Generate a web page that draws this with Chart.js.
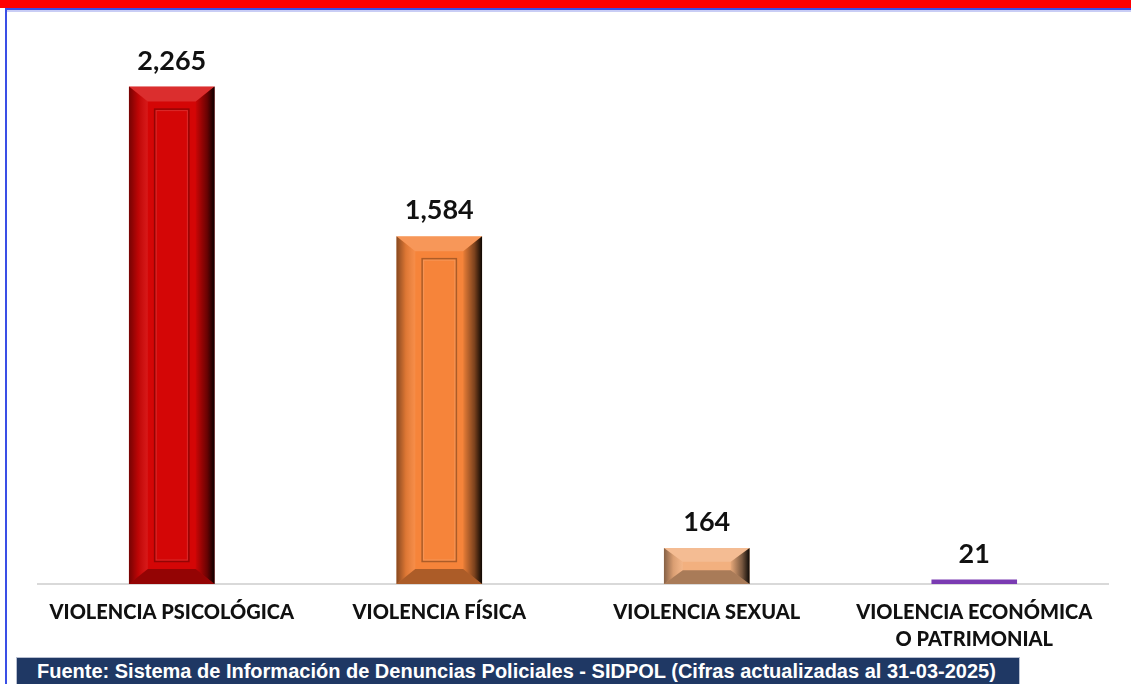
<!DOCTYPE html>
<html>
<head>
<meta charset="utf-8">
<script src="https://cdn.jsdelivr.net/npm/chart.js@4/dist/chart.umd.min.js"></script>
<style>
  html, body { margin: 0; padding: 0; background: #fff; }
  body { width: 1131px; height: 684px; position: relative; overflow: hidden; }
  #banner { position: absolute; left: 0; top: 0; width: 1131px; height: 8px; background: #ff0000; }
  #frameTop { position: absolute; left: 5px; top: 8px; width: 1126px; height: 2px; background: #3a4fe6;
              box-shadow: 0 2px 0 #c9cdf5; }
  #frameLeft { position: absolute; left: 5px; top: 8px; width: 2px; height: 676px; background: #3a4fe6; }
  #fuente { position: absolute; left: 16px; top: 657px; width: 1004px; height: 30px; background: #1f3864;
            border: 1px solid #b8bfd0; box-sizing: border-box; color: #fff;
            font: bold 20px "Liberation Sans", Arial, sans-serif;
            line-height: 26px; padding-left: 20px; white-space: nowrap; }
  canvas { position: absolute; left: 0; top: 0; }
</style>
</head>
<body>
<div id="banner"></div>
<div id="frameTop"></div>
<div id="frameLeft"></div>
<canvas id="chart" width="1131" height="684"></canvas>
<div id="fuente">Fuente: Sistema de Información de Denuncias Policiales - SIDPOL (Cifras actualizadas al 31-03-2025)</div>
<script>
const categories = [
    ["VIOLENCIA PSICOLÓGICA"],
    ["VIOLENCIA FÍSICA"],
    ["VIOLENCIA SEXUAL"],
    ["VIOLENCIA ECONÓMICA", "O PATRIMONIAL"]
];
const denuncias = [2265, 1584, 164, 21];
const barColors = ["#d40606", "#f6843a", "#f2b07f", "#7a3bb2"];

// bevel look on top of each bar (uses the bar element positions)
const bevelPlugin = {
    id: "bevel",
    afterDatasetsDraw(chart) {
        const ctx = chart.ctx;
        chart.getDatasetMeta(0).data.forEach((bar, i) => {
            const p = bar.getProps(["x", "y", "base", "width"], true);
            const l = p.x - p.width / 2, r = p.x + p.width / 2, t = p.y, b = p.base;
            const h = b - t;
            if (h < 12) return;
            const d = Math.min(15, h / 2.6);
            const w = p.width;
            ctx.save();
            // top face
            ctx.fillStyle = "rgba(255,255,255,0.16)";
            ctx.beginPath();
            ctx.moveTo(l, t); ctx.lineTo(r, t); ctx.lineTo(r - w * 0.22, t + d); ctx.lineTo(l + w * 0.22, t + d);
            ctx.closePath(); ctx.fill();
            // left face
            let g = ctx.createLinearGradient(l, 0, l + w * 0.22, 0);
            g.addColorStop(0, "rgba(0,0,0,0.45)");
            g.addColorStop(0.5, "rgba(0,0,0,0.1)");
            g.addColorStop(1, "rgba(255,255,255,0.08)");
            ctx.fillStyle = g;
            ctx.beginPath();
            ctx.moveTo(l, t); ctx.lineTo(l + w * 0.22, t + d); ctx.lineTo(l + w * 0.22, b - d); ctx.lineTo(l, b);
            ctx.closePath(); ctx.fill();
            // right face
            g = ctx.createLinearGradient(r - w * 0.22, 0, r, 0);
            g.addColorStop(0, "rgba(0,0,0,0.05)");
            g.addColorStop(0.6, "rgba(0,0,0,0.5)");
            g.addColorStop(1, "rgba(0,0,0,0.95)");
            ctx.fillStyle = g;
            ctx.beginPath();
            ctx.moveTo(r, t); ctx.lineTo(r, b); ctx.lineTo(r - w * 0.22, b - d); ctx.lineTo(r - w * 0.22, t + d);
            ctx.closePath(); ctx.fill();
            // bottom face
            ctx.fillStyle = "rgba(0,0,0,0.3)";
            ctx.beginPath();
            ctx.moveTo(l, b); ctx.lineTo(l + w * 0.22, b - d); ctx.lineTo(r - w * 0.22, b - d); ctx.lineTo(r, b);
            ctx.closePath(); ctx.fill();
            // inner panel
            const il = l + w * 0.3, ir = r - w * 0.3;
            const it = t + d * 1.5, ib = b - d * 1.5;
            if (ib - it > 4) {
                ctx.strokeStyle = "rgba(0,0,0,0.3)";
                ctx.lineWidth = 1.5;
                ctx.strokeRect(il, it, ir - il, ib - it);
                ctx.strokeStyle = "rgba(255,255,255,0.15)";
                ctx.lineWidth = 1;
                ctx.strokeRect(il + 1.5, it + 1.5, ir - il - 3, ib - it - 3);
            }
            ctx.restore();
        });
    }
};

const valueLabels = {
    id: "valueLabels",
    afterDatasetsDraw(chart) {
        const ctx = chart.ctx;
        ctx.save();
        ctx.font = "bold 27px Lato, 'Open Sans', sans-serif";
        ctx.fillStyle = "#111";
        ctx.textAlign = "center";
        ctx.textBaseline = "bottom";
        chart.getDatasetMeta(0).data.forEach((bar, i) => {
            ctx.fillText(denuncias[i].toLocaleString("en-US"), bar.x, bar.y - 12);
        });
        ctx.restore();
    }
};

new Chart(document.getElementById("chart"), {
    "type": "bar",
    "data": {
        "labels": categories,
        "datasets": [{
            "data": denuncias,
            "backgroundColor": barColors,
            "borderWidth": 0,
            "barPercentage": 0.64,
            "categoryPercentage": 0.5
        }]
    },
    "options": {
        responsive: false,
        animation: false,
        layout: { padding: { left: 38, right: 23, top: 35, bottom: 24 } },
        plugins: { legend: { display: false }, tooltip: { enabled: false } },
        scales: {
            x: {
                grid: { display: false },
                border: { display: true, color: "#d9d9d9", width: 2 },
                ticks: {
                    color: "#111",
                    font: { family: "Lato", size: 20, weight: "900", lineHeight: 1.35 },
                    padding: 7,
                    maxRotation: 0
                }
            },
            y: { display: false, min: 0, max: 2500 }
        }
    },
    plugins: [bevelPlugin, valueLabels]
});
</script>
</body>
</html>
